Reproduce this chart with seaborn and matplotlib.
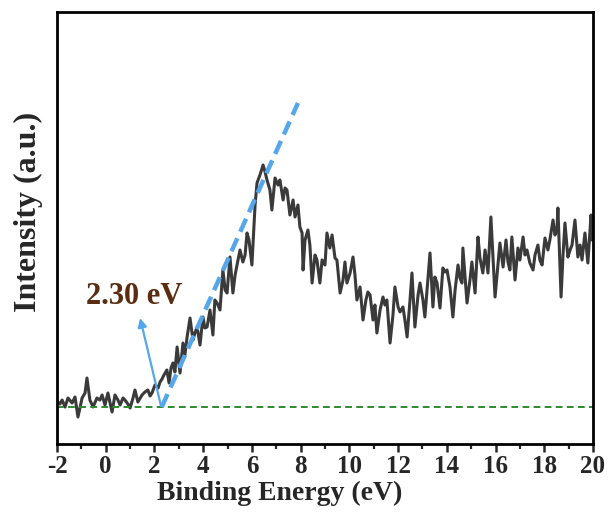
import matplotlib
matplotlib.use("Agg")
import matplotlib.pyplot as plt
import seaborn as sns
import pandas as pd

# Valence-band spectrum: binding energy (eV) and intensity (a.u.)
energy = [
    -1.96, -1.88, -1.79, -1.67, -1.55, -1.38, -1.26, -1.14, -0.97, -0.85,
    -0.77, -0.65, -0.52, -0.36, -0.24, -0.15, -0.03, 0.09, 0.26, 0.38,
    0.50, 0.59, 0.71, 0.79, 0.91, 1.00, 1.12, 1.20, 1.32, 1.49,
    1.61, 1.73, 1.82, 1.90, 2.02, 2.15, 2.23, 2.31, 2.39, 2.51,
    2.60, 2.68, 2.76, 2.84, 2.93, 3.05, 3.17, 3.25, 3.34, 3.46,
    3.58, 3.66, 3.75, 3.87, 3.99, 4.07, 4.16, 4.28, 4.40, 4.48,
    4.57, 4.69, 4.81, 4.90, 4.98, 5.10, 5.22, 5.31, 5.39, 5.51,
    5.63, 5.72, 5.80, 5.88, 6.00, 6.13, 6.21, 6.33, 6.46, 6.54,
    6.62, 6.74, 6.82, 6.95, 7.07, 7.15, 7.28, 7.36, 7.44, 7.56,
    7.69, 7.77, 7.89, 7.97, 8.06, 8.10, 8.18, 8.30, 8.38, 8.47,
    8.59, 8.67, 8.79, 8.88, 9.00, 9.08, 9.20, 9.29, 9.41, 9.49,
    9.62, 9.74, 9.82, 9.90, 10.03, 10.15, 10.23, 10.31, 10.44, 10.56,
    10.68, 10.76, 10.85, 10.97, 11.05, 11.13, 11.26, 11.38, 11.46, 11.54,
    11.67, 11.79, 11.87, 12.00, 12.08, 12.20, 12.28, 12.37, 12.49, 12.57,
    12.69, 12.82, 12.90, 13.02, 13.10, 13.19, 13.31, 13.43, 13.51, 13.60,
    13.72, 13.84, 13.92, 14.01, 14.13, 14.25, 14.34, 14.46, 14.54, 14.62,
    14.66, 14.83, 14.95, 15.03, 15.16, 15.28, 15.36, 15.48, 15.57, 15.69,
    15.81, 15.90, 15.98, 16.10, 16.18, 16.31, 16.43, 16.51, 16.59, 16.67,
    16.80, 16.92, 17.00, 17.13, 17.21, 17.29, 17.41, 17.54, 17.62, 17.74,
    17.82, 17.91, 18.03, 18.15, 18.23, 18.36, 18.44, 18.52, 18.56, 18.69,
    18.77, 18.85, 18.97, 19.06, 19.14, 19.26, 19.38, 19.47, 19.55, 19.67,
    19.79, 19.92, 19.96,
]
intensity = [
    42, 40, 44, 37, 46, 41, 47, 27, 46, 51,
    66, 44, 37, 46, 44, 49, 39, 51, 32, 49,
    44, 39, 46, 44, 40, 36, 46, 54, 42, 49,
    52, 54, 48, 51, 59, 56, 62, 65, 69, 74,
    61, 76, 81, 72, 97, 71, 101, 89, 107, 126,
    104, 111, 117, 99, 127, 116, 117, 134, 109, 144,
    141, 134, 174, 154, 151, 187, 151, 169, 179, 194,
    182, 189, 211, 204, 179, 239, 261, 269, 279, 272,
    264, 254, 234, 266, 259, 264, 244, 256, 254, 229,
    244, 227, 239, 217, 211, 174, 204, 214, 199, 161,
    189, 184, 161, 184, 179, 211, 196, 209, 186, 184,
    151, 164, 182, 161, 171, 187, 169, 144, 157, 124,
    144, 152, 149, 124, 139, 111, 134, 147, 139, 144,
    101, 129, 157, 137, 132, 137, 124, 107, 144, 171,
    117, 149, 161, 144, 127, 154, 191, 137, 167, 161,
    136, 176, 172, 174, 157, 127, 154, 179, 166, 161,
    196, 141, 164, 182, 151, 207, 186, 171, 194, 171,
    227, 184, 147, 179, 201, 177, 204, 182, 174, 207,
    164, 196, 184, 207, 189, 194, 181, 174, 189, 199,
    184, 179, 206, 194, 204, 224, 209, 214, 236, 147,
    189, 221, 187, 194, 199, 224, 187, 199, 184, 211,
    181, 229, 204,
]

baseline_level = 37          # flat background level
onset_energy = 2.30          # extrapolated band edge
tangent_end = (7.89, 341)    # upper end of the linear fit to the leading edge
arrow_tip = (1.41, 126)
label_pos = (1.16, 147)

df = pd.DataFrame({"Binding Energy (eV)": energy, "Intensity (a.u.)": intensity})

sns.set_style("ticks")
plt.rcParams["font.family"] = ["Liberation Serif", "DejaVu Serif"]
plt.rcParams["font.weight"] = "bold"
plt.rcParams["axes.unicode_minus"] = False

fig = plt.figure(figsize=(6.09, 5.19), dpi=100)
ax = fig.add_axes([0.0936, 0.1445, 0.8801, 0.8324])

sns.lineplot(data=df, x="Binding Energy (eV)", y="Intensity (a.u.)", ax=ax,
             color="#3a3a3a", linewidth=2.2, sort=False, estimator=None)

# background level
ax.axhline(baseline_level, color="#2e8b2e", linestyle=(0, (3.5, 2.2)), linewidth=1.4)

# linear extrapolation of the leading edge
ax.plot([onset_energy, tangent_end[0]], [baseline_level, tangent_end[1]],
        color="#55a6ea", linestyle=(0, (3.2, 1.6)), linewidth=3.2)

ax.annotate("", xy=arrow_tip, xytext=(onset_energy - 0.03, baseline_level + 1),
            arrowprops=dict(arrowstyle="-|>", color="#55a6ea", lw=1.6,
                            mutation_scale=13, shrinkA=0, shrinkB=0))
ax.text(label_pos[0], label_pos[1], f"{onset_energy:.2f} eV", color="#5a2d12",
        fontsize=22, fontweight="bold", ha="center", va="center")

ax.set_xlim(-2, 20)
ax.set_ylim(0, 432)
ax.set_xticks(range(-2, 21, 2))
ax.set_xticks(range(-2, 21, 1), minor=True)
ax.set_yticks([])
ax.tick_params(axis="x", which="major", direction="out", length=6, width=1.8,
               labelsize=18, pad=2)
ax.tick_params(axis="x", which="minor", direction="out", length=3.5, width=1.6)
for lab in ax.get_xticklabels():
    lab.set_fontweight("bold")
for sp in ax.spines.values():
    sp.set_linewidth(2.0)
    sp.set_color("black")

ax.set_xlabel("Binding Energy (eV)", fontsize=20, fontweight="bold", labelpad=4)
ax.set_ylabel("Intensity (a.u.)", fontsize=23, fontweight="bold", labelpad=10)
ax.xaxis.set_label_coords(0.416, -0.085)
ax.yaxis.set_label_coords(-0.027, 0.537)

fig.savefig("out.png", dpi=100)
